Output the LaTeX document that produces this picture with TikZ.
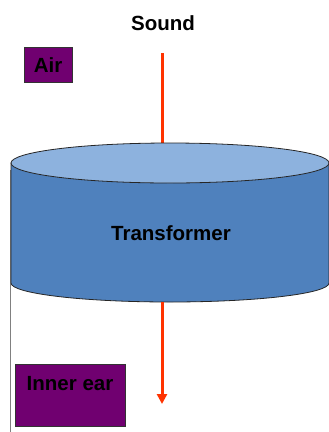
\documentclass[tikz,border=0pt]{standalone}
\usepackage{fontspec}
\setmainfont{Liberation Sans}
\usetikzlibrary{arrows.meta}
\definecolor{cyltop}{RGB}{141,178,222}
\definecolor{cylside}{RGB}{79,129,189}
\definecolor{boxpurple}{RGB}{112,0,112}
\definecolor{sigred}{RGB}{255,51,0}
\tikzset{
  x=1pt,y=1pt,
  lbl/.style={font=\fontsize{20.5}{24}\selectfont\bfseries, text=black, inner sep=0pt},
  pbox/.style={draw=black!80, line width=0.8pt, fill=boxpurple},
  sig/.style={draw=sigred, line width=3pt},
  outline/.style={draw=black!85, line width=0.8pt}
}
\begin{document}
\begin{tikzpicture}
\useasboundingbox (0,0) rectangle (329,-432);
% gray frame line
\draw[gray, line width=0.8pt] (10.5,-170) -- (10.5,-432);
% labels
\node[lbl] (sound) at (163,-23) {Sound};
\draw[pbox] (24,-47) rectangle (72,-82);
\node[lbl] (air) at (48,-65) {Air};
% input signal
\coordinate (sigtop) at (162,-53);
\coordinate (cyltopc) at (162,-143);
\draw[sig] (sigtop) -- (cyltopc);
% cylinder
\path[fill=cylside, outline] (11,-163) -- (11,-283) arc[start angle=180, end angle=360, x radius=159, y radius=19] -- (329,-163) -- cycle;
\draw[fill=cyltop, outline] (170,-163) ellipse[x radius=159, y radius=20];
\node[lbl] (trans) at (171,-233) {Transformer};
% output signal
\coordinate (cylbot) at (162,-302);
\coordinate (sigend) at (162,-404);
\draw[sig, -{Triangle[length=10pt,width=10pt]}] (cylbot) -- (sigend);
% inner ear
\draw[pbox] (15,-364) rectangle (125,-426);
\node[lbl] (inner) at (70,-384) {Inner ear};
\end{tikzpicture}
\end{document}
